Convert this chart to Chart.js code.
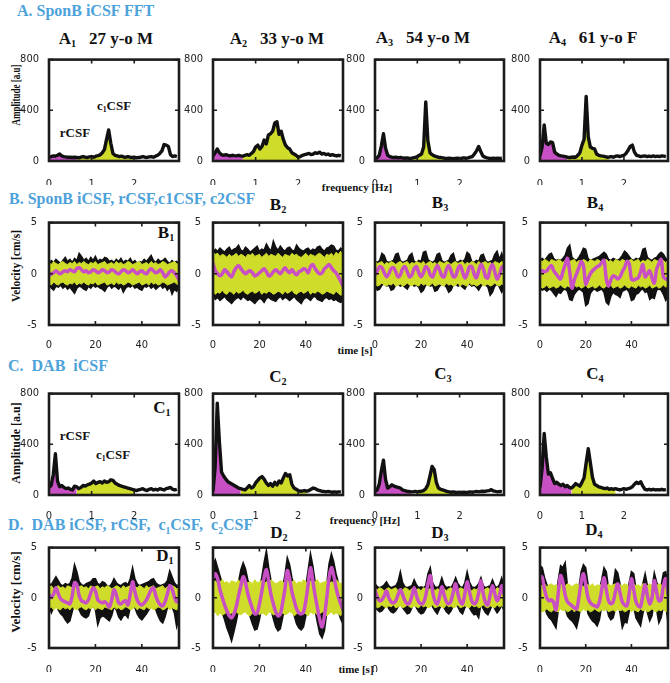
<!DOCTYPE html>
<html>
<head>
<meta charset="utf-8">
<script src="https://cdn.jsdelivr.net/npm/chart.js@4.4.1/dist/chart.umd.min.js"></script>
<style>
  body { margin: 0; width: 670px; height: 683px; overflow: hidden; background: #fff; position: relative; font-family: 'Liberation Serif', 'Times New Roman', serif; }
  canvas { position: absolute; }
  .hd { position: absolute; transform: translateY(-50%); color: #4da2da; font-weight: bold; font-size: 16px; white-space: nowrap; }
  .pt { position: absolute; transform: translate(-50%, -50%); font-weight: bold; font-size: 17px; color: #111; white-space: nowrap; }
  .an { position: absolute; transform: translate(-50%, -50%); font-weight: bold; font-size: 13px; color: #111; white-space: nowrap; }
  .yl { position: absolute; font-weight: bold; color: #111; white-space: nowrap; }
  .xl { position: absolute; transform: translate(-50%, -50%); font-weight: bold; font-size: 11px; color: #111; white-space: nowrap; }
  sub { font-size: 60%; vertical-align: -0.35em; }
</style>
</head>
<body>

<div class="hd" style="left:17px;top:11px">A. SponB iCSF FFT</div>
<div class="hd" style="left:9px;top:199px">B. SponB iCSF, rCSF,c1CSF, c2CSF</div>
<div class="hd" style="left:8px;top:366px">C.&nbsp; DAB&nbsp; iCSF</div>
<div class="hd" style="left:8px;top:526px">D.&nbsp; DAB iCSF, rCSF,&nbsp; c<sub>1</sub>CSF,&nbsp; c<sub>2</sub>CSF</div>

<div class="pt" style="left:106px;top:39px">A<sub>1</sub>&nbsp;&nbsp; 27 y-o M</div>
<div class="pt" style="left:277px;top:39px">A<sub>2</sub>&nbsp;&nbsp; 33 y-o M</div>
<div class="pt" style="left:423px;top:38px">A<sub>3</sub>&nbsp;&nbsp; 54 y-o M</div>
<div class="pt" style="left:593px;top:38px">A<sub>4</sub>&nbsp;&nbsp; 61 y-o F</div>

<div class="pt" style="left:166px;top:233px">B<sub>1</sub></div>
<div class="pt" style="left:278px;top:205px">B<sub>2</sub></div>
<div class="pt" style="left:440px;top:203px">B<sub>3</sub></div>
<div class="pt" style="left:595px;top:203px">B<sub>4</sub></div>

<div class="pt" style="left:162px;top:408px">C<sub>1</sub></div>
<div class="pt" style="left:278px;top:377px">C<sub>2</sub></div>
<div class="pt" style="left:443px;top:374px">C<sub>3</sub></div>
<div class="pt" style="left:595px;top:374px">C<sub>4</sub></div>

<div class="pt" style="left:165px;top:556px">D<sub>1</sub></div>
<div class="pt" style="left:279px;top:533px">D<sub>2</sub></div>
<div class="pt" style="left:440px;top:533px">D<sub>3</sub></div>
<div class="pt" style="left:594px;top:530px">D<sub>4</sub></div>

<div class="an" style="left:114px;top:106px">c<sub>1</sub>CSF</div>
<div class="an" style="left:75px;top:133px">rCSF</div>
<div class="an" style="left:75px;top:436px">rCSF</div>
<div class="an" style="left:113px;top:455px">c<sub>1</sub>CSF</div>

<div class="yl" style="left:16px;top:95px;font-size:12px;transform:translate(-50%,-50%) rotate(-90deg) scaleX(0.75)">Amplitude [a.u]</div>
<div class="yl" style="left:16px;top:266px;font-size:11.5px;transform:translate(-50%,-50%) rotate(-90deg)">Velocity [cm/s]</div>
<div class="yl" style="left:16px;top:443px;font-size:12px;transform:translate(-50%,-50%) rotate(-90deg)">Amplitude [a.u]</div>
<div class="yl" style="left:16px;top:592px;font-size:13px;transform:translate(-50%,-50%) rotate(-90deg)">Velocity [cm/s]</div>

<div class="xl" style="left:357px;top:187px">frequency [Hz]</div>
<div class="xl" style="left:365px;top:520px">frequency [Hz]</div>
<div class="xl" style="left:355px;top:350px">time [s]</div>
<div class="xl" style="left:356px;top:669px">time [s]</div>

<script>
// ---- spectra (rows A and C): frequency axis and amplitudes ----
const freqHz = [
  0, 0.05, 0.1, 0.15, 0.2, 0.25, 0.3, 0.35, 0.4, 0.45,
  0.5, 0.55, 0.6, 0.65, 0.7, 0.75, 0.8, 0.85, 0.9, 0.95,
  1.0, 1.05, 1.1, 1.15, 1.2, 1.25, 1.3, 1.35, 1.4, 1.45,
  1.5, 1.55, 1.6, 1.65, 1.7, 1.75, 1.8, 1.85, 1.9, 1.95,
  2.0, 2.05, 2.1, 2.15, 2.2, 2.25, 2.3, 2.35, 2.4, 2.45,
  2.5, 2.55, 2.6, 2.65, 2.7, 2.75, 2.8, 2.85, 2.9, 2.95,
  3.0
];

const ampA1 = [30,35,40,38,45,55,40,35,32,30, 30,28,30,28,25,30,35,30,28,32, 35,30,38,42,48,65,90,170,245,140,
  60,45,40,35,38,32,30,35,30,28, 30,25,28,30,35,30,28,32,35,30, 38,45,60,80,130,125,115,50,35,40, 35];
const ampA2 = [40,65,95,65,50,45,50,45,40,45, 42,40,45,40,38,45,50,45,60,75, 110,125,95,115,165,135,205,215,235,300,
  310,210,235,170,125,105,95,65,55,45, 30,35,45,50,55,60,50,55,65,60, 70,55,60,50,55,45,50,45,40,45, 40];
const ampA3 = [20,25,45,120,215,100,45,35,30,28, 30,25,28,25,22,25,22,20,25,28, 35,45,55,110,465,160,65,50,40,35,
  30,28,25,22,20,22,20,18,20,22, 20,22,25,22,25,30,35,55,80,115, 75,40,30,25,22,20,22,20,22,20, 22];
const ampA4 = [40,110,285,140,130,150,145,70,55,45, 40,38,35,30,28,30,32,30,45,65, 125,170,510,190,110,100,95,55,45,40,
  38,35,30,32,35,30,38,40,35,40, 45,60,85,115,125,70,45,40,35,38, 40,35,38,35,40,35,38,35,40,38, 35];
const ampC1 = [60,75,160,325,110,65,75,60,50,55, 45,40,70,65,50,60,75,70,80,85, 95,110,90,100,105,95,110,100,105,120,
  115,95,85,75,70,65,60,55,50,45, 40,35,40,45,50,40,35,45,50,40, 45,40,50,45,40,50,55,60,45,40, 45];
const ampC2 = [30,220,725,420,180,150,125,105,95,85, 75,65,55,50,45,40,55,75,55,65, 95,115,135,145,125,95,75,90,70,100,
  80,110,95,135,170,150,160,85,55,45, 35,30,32,35,30,35,45,55,50,40, 35,30,28,25,28,25,22,25,22,25, 25];
const ampC3 = [30,40,85,190,275,120,55,65,80,70, 65,60,55,40,35,30,28,25,25,28, 25,28,30,35,50,80,150,225,200,100,
  55,45,40,35,28,25,22,25,22,20, 22,20,22,20,22,25,22,25,28,25, 28,30,28,32,35,42,32,28,25,28, 25];
const ampC4 = [60,210,485,300,165,175,130,90,100,85, 75,85,65,75,60,55,70,90,80,70, 100,135,255,365,255,140,85,75,65,60,
  55,50,55,45,50,45,50,45,40,45, 50,45,50,55,65,85,100,90,105,70, 45,40,45,40,45,40,42,40,45,40, 42];

// [rCSF band end, c1CSF band start, c1CSF band end] in Hz
const bandsA = [[0.65, 0.65, 2.0], [0.7, 0.7, 2.05], [0.8, 0.8, 1.8], [0.65, 0.65, 1.65]];
const bandsC = [[0.65, 0.65, 2.0], [0.65, 0.65, 2.2], [0.85, 1.0, 2.0], [0.75, 0.75, 1.8]];

const freqTicks = [0, 1, 2];
const ampTicks = [0, 400, 800];

// ---- velocity traces (rows B and D), one value per second ----
const timeS = [
  0, 1, 2, 3, 4, 5, 6, 7, 8, 9,
  10, 11, 12, 13, 14, 15, 16, 17, 18, 19,
  20, 21, 22, 23, 24, 25, 26, 27, 28, 29,
  30, 31, 32, 33, 34, 35, 36, 37, 38, 39,
  40, 41, 42, 43, 44, 45, 46, 47, 48, 49,
  50, 51, 52, 53, 54, 55, 56
];
const timeTicks = [0, 20, 40];
const velTicks = [-5, 0, 5];

// B1
const b1IcsfHi = [1.0,1.3,1.1,1.4,1.2,1.0,1.3,1.6,1.2,1.4, 1.1,1.5,1.3,2.0,1.7,1.3,1.5,1.2,1.6,1.3,
  1.7,1.2,1.4,1.3,1.6,1.5,1.2,1.3,1.1,1.4, 1.2,1.5,1.1,1.3,1.2,1.5,1.1,1.3,1.0,1.2,
  1.1,1.4,1.2,1.5,1.8,1.3,1.1,1.4,1.2,1.3, 1.5,1.2,1.0,1.3,1.1,1.2,0.9];
const b1IcsfLo = [-1.0,-1.4,-1.6,-1.2,-1.3,-1.1,-1.4,-1.2,-1.5,-1.3, -1.6,-1.9,-1.4,-1.2,-1.3,-1.5,-1.6,-1.2,-1.4,-1.1,
  -1.3,-1.2,-1.4,-1.5,-1.7,-1.3,-1.1,-1.4,-1.2,-1.3, -1.5,-1.2,-1.8,-1.4,-1.2,-1.3,-1.1,-1.4,-1.3,-1.5,
  -1.6,-1.2,-1.3,-1.1,-1.4,-1.2,-1.5,-1.3,-1.1,-1.4, -1.2,-1.6,-1.3,-2.0,-1.5,-1.7,-1.3];
const b1C1Hi = [1.1,0.9,1.2,1.0,0.9,1.1,1.2,1.0,0.9,1.1, 1.0,1.2,0.9,1.1,1.0,1.2,1.0,0.9,1.1,1.0,
  1.2,0.9,1.0,1.1,1.2,0.9,1.0,1.1,0.9,1.2, 1.0,1.1,0.9,1.0,1.2,1.1,0.9,1.0,1.1,1.2,
  0.9,1.0,1.1,0.9,1.2,1.0,1.1,0.9,1.0,1.2, 1.1,0.9,1.0,1.1,1.2,1.0,0.9];
const b1C1Lo = [-0.9,-1.1,-0.8,-1.0,-1.1,-0.9,-0.8,-1.0,-1.1,-0.9, -1.0,-0.8,-1.1,-0.9,-1.0,-0.8,-1.0,-1.1,-0.9,-1.0,
  -0.8,-1.1,-1.0,-0.9,-0.8,-1.1,-1.0,-0.9,-1.1,-0.8, -1.0,-0.9,-1.1,-1.0,-0.8,-0.9,-1.1,-1.0,-0.9,-0.8,
  -1.1,-1.0,-0.9,-1.1,-0.8,-1.0,-0.9,-1.1,-1.0,-0.8, -0.9,-1.1,-1.0,-0.9,-0.8,-1.0,-1.1];
const b1Rcsf = [-0.2,0.0,0.1,0.3,0.1,0.0,0.2,0.3,0.2,0.4, 0.3,0.2,0.5,0.6,0.4,0.2,0.3,0.1,0.2,0.4,
  0.3,0.1,0.2,0.4,0.3,0.1,0.2,0.4,0.3,0.1, 0.0,0.2,0.4,0.3,0.1,0.2,0.4,0.2,0.0,0.2,
  0.3,0.1,0.0,0.3,0.5,0.3,0.1,0.2,0.4,0.1, -0.3,-0.1,0.2,0.3,0.1,-0.2,-0.6];

// B2
const b2IcsfHi = [2.1,2.4,2.2,2.5,2.3,2.1,2.4,2.6,2.2,2.4, 2.5,2.8,2.3,2.2,2.6,2.4,2.1,2.3,2.5,2.7,
  2.2,2.4,2.3,2.9,2.5,2.2,3.2,2.6,2.3,2.7, 2.4,2.2,2.5,2.6,2.3,2.2,2.8,2.5,2.3,2.2,
  2.4,2.5,2.2,2.4,2.3,2.6,2.7,2.4,2.2,2.5, 2.6,2.8,2.7,2.3,2.2,2.5,2.3];
const b2IcsfLo = [-2.2,-2.5,-2.3,-2.6,-2.4,-2.2,-2.5,-2.7,-2.9,-2.6, -2.4,-2.3,-2.5,-2.2,-2.4,-2.6,-2.5,-2.7,-2.9,-2.6,
  -2.4,-2.5,-2.8,-2.4,-2.3,-2.5,-2.6,-2.7,-2.4,-2.2, -2.5,-2.3,-2.4,-2.6,-2.4,-2.2,-2.5,-2.7,-2.9,-2.5,
  -2.3,-2.4,-2.6,-2.3,-2.2,-2.5,-2.6,-2.7,-2.4,-2.3, -2.5,-2.4,-2.6,-2.5,-2.7,-2.8,-2.6];
const b2C1Hi = [2.1,1.9,2.0,1.7,1.9,1.8,1.6,1.9,1.7,1.8, 2.0,1.7,1.9,1.8,1.6,1.9,1.8,2.0,1.7,1.8,
  1.9,1.6,1.8,2.0,1.7,1.9,1.8,1.7,2.0,1.8, 1.6,1.9,1.8,1.7,2.0,1.8,1.9,1.7,1.6,1.8,
  2.0,1.7,1.9,1.8,1.7,1.9,2.0,1.8,1.6,1.9, 1.8,2.0,1.7,2.1,1.9,2.2,1.8];
const b2C1Lo = [-1.7,-2.0,-1.8,-1.9,-1.6,-1.9,-2.0,-1.7,-1.8,-2.0, -1.7,-1.9,-1.8,-1.6,-1.9,-2.0,-1.8,-1.7,-1.9,-1.8,
  -1.6,-2.0,-1.8,-1.9,-1.7,-1.8,-2.0,-1.9,-1.7,-1.8, -2.0,-1.7,-1.9,-1.8,-1.6,-1.9,-2.0,-1.8,-1.7,-1.9,
  -1.8,-1.6,-2.0,-1.8,-1.9,-1.7,-1.8,-2.0,-1.9,-1.7, -1.8,-1.9,-2.0,-1.7,-1.9,-2.1,-2.0];
const b2Rcsf = [1.0,0.3,0.0,-0.2,0.0,0.4,0.2,-0.1,-0.3,0.2, 0.6,0.8,0.5,0.2,0.0,0.2,0.3,0.1,-0.2,-0.1,
  0.1,0.3,0.5,0.2,-0.2,-0.1,0.2,0.4,0.2,0.0, 0.3,0.6,0.3,0.1,0.4,0.1,-0.1,0.2,0.3,0.5,
  0.4,0.1,0.7,0.9,0.5,0.2,0.0,0.1,0.5,0.7, 0.9,0.6,0.3,0.1,-0.3,-0.7,-1.2];

// B3
const b3IcsfHi = [1.2,1.1,1.3,2.0,1.8,1.2,1.1,1.2,1.3,1.9, 2.0,1.3,1.1,1.2,1.3,1.8,2.0,1.2,1.1,1.3,
  1.2,2.1,2.2,1.4,1.2,1.1,1.3,1.9,2.0,1.3, 1.1,1.2,1.3,1.8,2.0,1.2,1.1,1.3,1.2,1.4,
  2.1,1.9,1.2,1.1,1.3,1.2,1.8,1.9,1.3,1.1, 1.2,1.3,1.9,2.2,1.4,2.0,1.3];
const b3IcsfLo = [-1.1,-1.6,-1.5,-1.1,-1.0,-1.2,-1.1,-1.6,-1.5,-1.1, -1.0,-1.2,-1.1,-1.3,-1.5,-1.1,-1.0,-1.2,-1.1,-1.3,
  -1.8,-1.6,-1.1,-1.0,-1.2,-1.1,-1.7,-1.6,-1.2,-1.0, -1.1,-1.3,-1.8,-1.6,-1.1,-1.0,-1.2,-1.1,-1.3,-1.5,
  -1.1,-1.0,-1.2,-1.1,-1.3,-1.6,-1.2,-1.0,-1.1,-1.3, -2.1,-1.8,-1.2,-1.0,-1.3,-1.8,-1.4];
const b3C1Hi = [1.2,1.0,1.1,1.2,0.9,1.1,1.0,1.2,1.1,0.9, 1.1,1.2,1.0,1.1,1.2,0.9,1.1,1.0,1.2,1.1,
  1.0,1.2,0.9,1.1,1.2,1.0,1.1,0.9,1.2,1.1, 1.0,1.2,1.1,0.9,1.1,1.2,1.0,1.1,1.2,0.9,
  1.1,1.0,1.2,1.1,0.9,1.2,1.0,1.1,1.2,1.0, 1.1,0.9,1.2,1.1,1.0,1.2,1.1];
const b3C1Lo = [-1.0,-1.2,-1.1,-0.9,-1.1,-1.2,-1.0,-1.1,-0.9,-1.2, -1.1,-1.0,-1.2,-1.1,-0.9,-1.1,-1.2,-1.0,-1.1,-1.2,
  -0.9,-1.1,-1.0,-1.2,-1.1,-0.9,-1.2,-1.1,-1.0,-1.1, -1.2,-0.9,-1.1,-1.0,-1.2,-1.1,-0.9,-1.2,-1.0,-1.1,
  -1.2,-0.9,-1.1,-1.0,-1.2,-1.1,-0.9,-1.2,-1.1,-1.0, -1.2,-1.1,-0.9,-1.1,-1.2,-1.0,-1.1];
const b3Rcsf = [-0.1,0.3,0.7,0.6,0.1,-0.3,0.0,0.5,0.6,0.2, -0.3,-0.1,0.5,0.7,0.2,-0.3,-0.1,0.5,0.7,0.1,
  -0.3,0.1,0.7,0.5,-0.1,-0.3,0.3,0.8,0.4,-0.2, -0.3,0.4,0.8,0.3,-0.3,-0.2,0.5,0.8,0.2,-0.4,
  0.0,0.7,0.7,0.0,-0.4,0.3,0.9,0.5,-0.3,-0.4, 0.5,0.9,0.2,-0.5,-0.1,0.6,0.8];

// B4
const b4IcsfHi = [1.4,1.5,1.3,1.6,1.9,2.0,1.5,1.3,1.4,1.3, 1.5,1.8,2.5,2.8,1.6,1.4,1.3,1.6,2.0,2.5,
  2.4,1.5,1.3,1.4,1.5,1.6,1.7,1.9,2.1,1.9, 1.4,1.3,1.5,1.4,1.3,1.5,1.8,2.2,2.0,1.7,
  1.4,1.3,1.5,1.4,1.6,2.4,2.5,1.6,1.4,1.3, 1.5,1.6,1.9,2.1,1.9,1.5,1.4];
const b4IcsfLo = [-1.4,-1.6,-1.5,-1.7,-1.5,-1.6,-1.9,-2.2,-1.8,-1.9, -1.6,-1.5,-1.7,-2.5,-2.6,-2.0,-1.7,-1.5,-1.6,-1.8,
  -3.1,-2.9,-1.9,-1.6,-1.5,-1.7,-1.6,-1.5,-1.8,-2.8, -3.0,-2.2,-1.8,-2.0,-2.1,-2.3,-1.7,-1.6,-1.5,-1.8,
  -2.6,-2.5,-2.0,-1.9,-1.6,-1.5,-1.8,-1.7,-2.5,-2.3, -2.4,-1.6,-1.5,-1.6,-2.0,-2.6,-2.2];
const b4C1Hi = [1.3,1.2,1.4,1.3,1.1,1.4,1.3,1.2,1.4,1.3, 1.1,1.3,1.4,1.2,1.3,1.4,1.1,1.3,1.2,1.4,
  1.3,1.1,1.4,1.3,1.2,1.4,1.3,1.1,1.3,1.4, 1.2,1.3,1.1,1.4,1.3,1.2,1.4,1.3,1.1,1.3,
  1.4,1.2,1.3,1.4,1.1,1.3,1.2,1.4,1.3,1.1, 1.4,1.3,1.2,1.4,1.3,1.1,1.3];
const b4C1Lo = [-1.2,-1.4,-1.3,-1.1,-1.4,-1.3,-1.2,-1.4,-1.3,-1.1, -1.3,-1.4,-1.2,-1.3,-1.4,-1.1,-1.3,-1.2,-1.4,-1.3,
  -1.1,-1.4,-1.3,-1.2,-1.4,-1.3,-1.1,-1.3,-1.4,-1.2, -1.3,-1.1,-1.4,-1.3,-1.2,-1.4,-1.3,-1.1,-1.3,-1.4,
  -1.2,-1.3,-1.4,-1.1,-1.3,-1.2,-1.4,-1.3,-1.1,-1.4, -1.3,-1.2,-1.4,-1.3,-1.1,-1.3,-1.2];
const b4Rcsf = [0.2,0.3,0.2,0.3,0.6,0.8,0.3,0.0,-0.3,-0.5, 0.2,0.9,1.5,0.2,-1.4,-0.6,0.0,0.6,1.2,0.8,
  -1.0,-0.5,0.0,0.3,0.5,0.7,0.8,1.1,1.3,-0.5, -1.2,-0.6,-0.2,-0.3,-0.5,-0.3,0.2,0.6,1.2,1.0,
  -0.5,-0.6,-0.5,-0.4,0.2,0.9,-0.3,0.0,0.3,-0.4, -0.9,0.4,1.0,1.4,-0.3,-0.5,-0.6];

// D1
const d1IcsfHi = [1.4,1.3,1.7,2.1,1.7,1.3,1.2,1.4,1.3,1.4, 2.0,3.3,2.6,1.6,1.3,1.2,1.4,1.5,1.6,1.9,
  1.9,1.4,1.3,1.6,1.5,1.2,1.1,1.4,1.9,1.5, 1.3,1.2,1.4,1.5,1.3,1.9,3.0,1.9,1.4,1.2,
  1.3,1.4,1.5,1.6,1.8,1.9,1.5,1.3,1.2,1.3, 1.4,1.7,2.7,2.1,1.5,1.2,1.3];
const d1IcsfLo = [-0.8,-1.5,-1.0,-0.5,-1.2,-1.6,-1.8,-2.2,-2.5,-2.3, -1.4,-0.5,-0.6,-1.2,-1.7,-1.9,-2.0,-1.8,-1.0,-0.8,
  -1.2,-2.7,-2.0,-1.8,-1.9,-2.1,-2.3,-1.8,-0.9,-1.2, -1.9,-2.2,-1.8,-1.7,-2.0,-1.0,-0.4,-1.0,-1.6,-2.0,
  -2.2,-1.9,-1.6,-1.2,-0.8,-0.6,-1.2,-1.8,-2.3,-2.5, -1.9,-1.0,-0.4,-0.9,-1.5,-2.9,-2.0];
const d1C1Hi = [1.0,1.2,0.9,1.1,1.2,1.0,1.1,0.9,1.2,1.1, 1.0,1.2,0.9,1.1,1.2,1.0,1.1,0.9,1.2,1.0,
  1.1,1.2,0.9,1.1,1.0,1.2,1.1,0.9,1.0,1.2, 1.1,0.9,1.2,1.0,1.1,1.2,0.9,1.1,1.0,1.2,
  1.1,0.9,1.2,1.0,1.1,1.2,0.9,1.0,1.1,1.2, 0.9,1.1,1.0,1.2,1.1,0.9,1.0];
const d1C1Lo = [-1.1,-0.9,-1.2,-1.0,-1.1,-1.2,-0.9,-1.1,-1.0,-1.2, -0.9,-1.1,-1.2,-1.0,-0.9,-1.1,-1.2,-1.0,-1.1,-0.9,
  -1.2,-1.0,-1.1,-1.2,-0.9,-1.0,-1.1,-1.2,-0.9,-1.1, -1.0,-1.2,-1.1,-0.9,-1.0,-1.2,-1.1,-0.9,-1.2,-1.0,
  -1.1,-1.2,-0.9,-1.1,-1.0,-1.2,-1.1,-0.9,-1.0,-1.2, -1.1,-0.9,-1.2,-1.0,-1.1,-1.2,-1.0];
const d1Rcsf = [0.3,0.0,0.4,1.0,0.4,-0.1,-0.3,-0.4,-0.5,-0.6, 0.2,1.5,1.3,0.2,-0.3,-0.4,-0.5,-0.2,0.5,1.0,
  0.7,-0.2,-0.4,-0.5,-0.4,-0.6,-0.9,-0.2,0.8,0.3, -0.5,-0.6,-0.4,-0.3,-0.7,0.4,1.6,0.6,-0.2,-0.6,
  -0.7,-0.5,-0.2,0.3,0.8,1.0,0.2,-0.4,-0.7,-0.8, -0.4,0.4,1.2,0.9,0.1,-0.4,-0.2];

// D2
const d2IcsfHi = [3.3,3.8,3.0,2.2,1.4,0.8,0.2,-0.3,-0.6,-0.2, 0.5,1.6,2.8,3.5,2.9,1.8,1.0,0.3,-0.1,0.0,
  0.9,2.0,3.5,4.7,3.0,1.7,0.8,0.1,-0.3,0.0, 1.0,2.3,4.0,3.3,2.0,1.1,0.4,0.0,-0.1,0.1,
  1.2,2.8,4.4,3.2,1.6,0.5,-0.6,-1.3,-0.4,1.4, 3.4,4.4,3.6,2.4,1.5,0.8,0.2];
const d2IcsfLo = [0.3,0.8,0.5,-0.6,-1.5,-2.2,-3.0,-3.6,-4.3,-3.4, -2.4,-1.2,-0.2,0.6,0.0,-1.0,-1.9,-2.6,-3.2,-3.1,
  -2.2,-0.9,0.5,1.2,0.1,-1.2,-2.1,-2.9,-3.3,-3.1, -2.0,-0.6,1.2,0.4,-0.9,-1.8,-2.6,-3.0,-3.2,-2.9,
  -1.8,-0.1,1.5,0.2,-1.3,-2.5,-3.6,-4.0,-3.3,-1.5, 0.5,1.5,0.7,-0.5,-1.4,-2.1,-2.6];
const d2C1Hi = [1.5,1.7,1.4,1.6,1.8,1.5,1.6,1.4,1.7,1.6, 1.5,1.8,1.4,1.6,1.7,1.5,1.6,1.4,1.8,1.5,
  1.6,1.7,1.4,1.6,1.5,1.8,1.6,1.4,1.5,1.7, 1.6,1.4,1.8,1.5,1.6,1.7,1.4,1.6,1.5,1.8,
  1.6,1.4,1.7,1.5,1.6,1.8,1.4,1.5,1.6,1.7, 1.4,1.6,1.5,1.8,1.6,1.4,1.5];
const d2C1Lo = [-1.6,-1.4,-1.8,-1.5,-1.7,-1.6,-1.4,-1.7,-1.5,-1.8, -1.4,-1.6,-1.7,-1.5,-1.4,-1.7,-1.8,-1.5,-1.6,-1.4,
  -1.7,-1.5,-1.6,-1.8,-1.4,-1.5,-1.7,-1.6,-1.4,-1.8, -1.5,-1.7,-1.6,-1.4,-1.5,-1.8,-1.6,-1.4,-1.7,-1.5,
  -1.6,-1.8,-1.4,-1.6,-1.5,-1.7,-1.6,-1.4,-1.5,-1.8, -1.6,-1.4,-1.7,-1.5,-1.6,-1.8,-1.5];
const d2Rcsf = [2.0,2.4,1.9,0.8,0.0,-0.7,-1.3,-1.8,-2.0,-1.6, -0.9,0.2,1.2,2.1,1.5,0.4,-0.4,-1.1,-1.6,-1.5,
  -0.6,0.6,2.0,2.8,1.6,0.3,-0.6,-1.4,-1.8,-1.6, -0.5,0.9,2.7,1.9,0.6,-0.3,-1.1,-1.5,-1.6,-1.4,
  -0.3,1.4,3.0,1.7,0.2,-1.0,-2.2,-2.9,-1.8,0.0, 2.0,3.0,2.2,1.0,0.1,-0.6,-1.2];

// D3
const d3IcsfHi = [1.4,1.1,1.0,1.1,1.3,1.6,1.2,1.0,1.1,1.2, 1.6,2.6,1.5,1.1,1.0,1.1,1.2,1.8,1.3,1.0,
  1.1,1.0,1.2,2.4,3.0,1.5,1.1,1.0,1.2,2.0, 1.3,1.0,1.1,1.0,1.4,2.0,1.4,1.1,1.0,1.5,
  2.6,1.6,1.1,1.0,1.1,1.4,2.0,1.2,1.0,1.1, 1.2,1.8,1.2,1.0,1.3,2.0,1.2];
const d3IcsfLo = [-0.9,-1.2,-1.4,-1.3,-1.0,-0.6,-1.1,-1.4,-1.5,-1.3, -0.9,-0.5,-1.0,-1.3,-1.6,-1.5,-1.0,-0.5,-1.0,-1.4,
  -1.6,-1.5,-1.1,-0.5,-0.3,-0.9,-1.3,-1.6,-1.1,-0.6, -1.0,-1.4,-1.6,-1.3,-0.8,-0.5,-0.9,-1.4,-1.6,-1.0,
  -0.5,-1.0,-1.4,-1.7,-1.6,-2.0,-0.6,-1.1,-1.5,-1.7, -1.2,-0.6,-1.1,-1.5,-1.2,-0.7,-1.3];
const d3C1Hi = [0.9,0.8,1.0,0.9,0.7,0.9,1.0,0.8,0.9,1.0, 0.7,0.9,0.8,1.0,0.9,0.7,0.9,1.0,0.8,0.9,
  0.7,1.0,0.9,0.8,0.9,1.0,0.7,0.9,0.8,1.0, 0.9,0.7,0.9,1.0,0.8,0.9,0.7,1.0,0.9,0.8,
  1.0,0.9,0.7,0.9,0.8,1.0,0.9,0.7,0.9,1.0, 0.8,0.9,0.7,1.0,0.9,0.8,0.9];
const d3C1Lo = [-0.8,-1.0,-0.9,-0.7,-0.9,-1.0,-0.8,-0.9,-0.7,-1.0, -0.9,-0.8,-1.0,-0.9,-0.7,-0.9,-1.0,-0.8,-0.9,-1.0,
  -0.7,-0.9,-0.8,-1.0,-0.9,-0.7,-1.0,-0.9,-0.8,-0.9, -1.0,-0.7,-0.9,-0.8,-1.0,-0.9,-0.7,-1.0,-0.9,-0.8,
  -0.9,-1.0,-0.7,-0.9,-0.8,-1.0,-0.9,-0.7,-0.9,-1.0, -0.8,-0.9,-1.0,-0.7,-0.9,-0.8,-1.0];
const d3Rcsf = [0.8,0.1,-0.3,-0.2,0.2,0.7,0.0,-0.4,-0.5,-0.3, 0.3,0.8,0.3,-0.3,-0.6,-0.5,0.2,1.0,0.2,-0.4,
  -0.6,-0.5,0.2,1.4,2.2,0.6,-0.3,-0.6,0.1,1.1, 0.3,-0.4,-0.6,-0.3,0.6,1.4,0.4,-0.4,-0.6,0.4,
  1.6,0.6,-0.3,-0.6,-0.4,0.5,1.7,0.4,-0.5,-0.7, 0.3,1.2,0.4,-0.3,0.2,1.2,0.4];

// D4
const d4IcsfHi = [3.2,3.0,2.0,1.3,1.0,1.1,0.8,0.2,1.8,3.2, 3.0,3.5,1.2,0.8,0.6,0.4,0.3,1.0,2.6,3.3,
  3.0,1.4,0.8,0.6,0.4,0.4,0.8,1.8,3.0,2.6, 1.0,0.8,1.2,2.8,2.5,1.4,0.8,0.5,0.5,1.5,
  2.6,2.4,0.9,0.5,0.4,1.4,2.4,1.2,0.5,1.0, 2.5,1.6,0.8,1.2,2.5,2.6,1.3];
const d4IcsfLo = [0.8,0.2,-0.9,-1.6,-2.0,-2.2,-2.6,-3.0,-1.2,0.6, 0.0,-1.0,-1.8,-2.1,-2.3,-2.6,-3.0,-2.0,-0.5,0.7,
  -0.3,-1.6,-2.0,-2.3,-2.5,-2.8,-2.2,-0.8,0.4,-0.8, -1.8,-2.2,-2.0,-1.1,-0.5,-1.5,-3.0,-2.4,-2.5,-1.4,
  0.0,-0.9,-2.0,-2.4,-2.8,-1.6,-0.6,-1.5,-2.3,-1.8, -0.2,-1.2,-2.5,-2.0,-0.8,-0.6,-2.6];
const d4C1Hi = [1.3,1.2,1.4,1.1,1.3,1.4,1.2,1.3,1.1,1.4, 1.3,1.2,1.4,1.3,1.1,1.3,1.4,1.2,1.3,1.1,
  1.4,1.3,1.2,1.4,1.1,1.3,1.2,1.4,1.3,1.1, 1.4,1.2,1.3,1.4,1.1,1.3,1.2,1.4,1.3,1.1,
  1.3,1.4,1.2,1.3,1.1,1.4,1.3,1.2,1.4,1.1, 1.3,1.2,1.4,1.3,1.1,1.3,1.2];
const d4C1Lo = [-1.2,-1.4,-1.3,-1.1,-1.3,-1.4,-1.2,-1.3,-1.4,-1.1, -1.3,-1.2,-1.4,-1.3,-1.1,-1.4,-1.2,-1.3,-1.4,-1.1,
  -1.3,-1.2,-1.4,-1.3,-1.1,-1.3,-1.4,-1.2,-1.3,-1.1, -1.4,-1.3,-1.2,-1.4,-1.1,-1.3,-1.2,-1.4,-1.3,-1.1,
  -1.4,-1.2,-1.3,-1.4,-1.1,-1.3,-1.2,-1.4,-1.3,-1.1, -1.3,-1.4,-1.2,-1.3,-1.1,-1.4,-1.3];
const d4Rcsf = [2.2,2.0,0.8,0.0,-0.3,-0.2,-0.5,-1.2,0.5,2.2, 1.6,0.3,-0.4,-0.6,-0.8,-1.0,-1.1,0.0,1.5,2.4,
  1.3,0.0,-0.5,-0.7,-0.8,-0.9,-0.4,0.8,2.0,0.8, -0.3,-0.6,-0.4,0.6,1.4,0.5,-0.4,-0.7,-0.8,0.4,
  1.9,0.8,-0.4,-0.8,-0.9,0.3,1.3,0.2,-0.6,0.0, 1.7,0.6,-0.3,-0.2,1.2,1.9,0.4];

// ---- drawing ----
const MAGENTA = '#c850c4';
const YELLOW = '#cfdd2a';
const BLACK = '#111111';
const TICK_FONT = { family: "'Liberation Sans Narrow', 'DejaVu Sans Condensed', 'Liberation Sans', sans-serif", size: 11 };

// plot-box geometry in page pixels; xPad = gap between box and x tick labels
const colBox = [{ l: 49, w: 130 }, { l: 213, w: 130 }, { l: 375, w: 129 }, { l: 540, w: 128 }];
const rowBox = {
  A: { t: 57, h: 104, xPad: 9 },
  B: { t: 218, h: 107, xPad: 6 },
  C: { t: 391, h: 104, xPad: 7 },
  D: { t: 543, h: 105, xPad: 8 }
};
const PAD_L = 40, PAD_T = 6, PAD_R = 2, PAD_B = 24;

// MATLAB-like frame with small inward tick marks
const framePlugin = {
  id: 'frame',
  afterDraw(chart) {
    const { ctx, chartArea: a, scales } = chart;
    ctx.save();
    ctx.strokeStyle = '#1c1c1c';
    ctx.lineWidth = 1.6;
    ctx.beginPath();
    scales.x.ticks.forEach(t => {
      const px = scales.x.getPixelForValue(t.value);
      ctx.moveTo(px, a.bottom); ctx.lineTo(px, a.bottom - 4);
      ctx.moveTo(px, a.top); ctx.lineTo(px, a.top + 4);
    });
    scales.y.ticks.forEach(t => {
      const py = scales.y.getPixelForValue(t.value);
      ctx.moveTo(a.left, py); ctx.lineTo(a.left + 4, py);
      ctx.moveTo(a.right, py); ctx.lineTo(a.right - 4, py);
    });
    ctx.stroke();
    ctx.lineWidth = 2.6;
    ctx.strokeRect(a.left, a.top, a.right - a.left, a.bottom - a.top);
    ctx.restore();
  }
};

function makeCanvas(row, col) {
  const r = rowBox[row], c = colBox[col];
  const cv = document.createElement('canvas');
  cv.width = c.w + PAD_L + PAD_R;
  cv.height = r.h + PAD_T + PAD_B;
  cv.style.left = (c.l - PAD_L) + 'px';
  cv.style.top = (r.t - PAD_T) + 'px';
  document.body.appendChild(cv);
  return cv;
}

function axisOpts(min, max, tickVals, isY, pad) {
  return {
    type: 'linear',
    min: min,
    max: max,
    grid: { display: false },
    border: { display: false },
    afterBuildTicks: axis => { axis.ticks = tickVals.map(v => ({ value: v })); },
    afterFit: axis => { if (isY) axis.width = PAD_L; else axis.height = PAD_B; },
    ticks: {
      font: TICK_FONT,
      color: '#222',
      padding: pad,
      autoSkip: false,
      maxRotation: 0,
      minRotation: 0,
      callback: v => String(v)
    }
  };
}

function baseOptions(row, xMax, xTicks, yMin, yMax, yTicks, yPad) {
  return {
    responsive: false,
    animation: false,
    events: [],
    layout: { padding: { left: 0, top: PAD_T, right: PAD_R, bottom: 0 } },
    elements: { point: { radius: 0 } },
    plugins: { legend: { display: false }, tooltip: { enabled: false } },
    scales: {
      x: axisOpts(0, xMax, xTicks, false, rowBox[row].xPad),
      y: axisOpts(yMin, yMax, yTicks, true, yPad)
    }
  };
}

function spectrumChart(row, col, amps, band) {
  const pts = freqHz.map((f, i) => ({ x: f, y: amps[i] }));
  const rPts = pts.filter(p => p.x <= band[0] + 1e-9);
  const cPts = pts.filter(p => p.x >= band[1] - 1e-9 && p.x <= band[2] + 1e-9);
  new Chart(makeCanvas(row, col), {
    type: 'line',
    data: {
      datasets: [
        { data: pts, borderColor: BLACK, borderWidth: 3.4, fill: false, tension: 0, borderJoinStyle: 'round' },
        { data: rPts, borderWidth: 0, borderColor: MAGENTA, backgroundColor: MAGENTA, fill: 'origin', tension: 0 },
        { data: cPts, borderWidth: 0, borderColor: YELLOW, backgroundColor: YELLOW, fill: 'origin', tension: 0 }
      ]
    },
    options: baseOptions(row, 3.05, freqTicks, 0, 800, ampTicks, 2),
    plugins: [framePlugin]
  });
}

function velocityChart(row, col, icsfHi, icsfLo, c1Hi, c1Lo, rcsf) {
  const pts = arr => timeS.map((t, i) => ({ x: t, y: arr[i] }));
  new Chart(makeCanvas(row, col), {
    type: 'line',
    data: {
      datasets: [
        { data: pts(rcsf), borderColor: MAGENTA, borderWidth: 3.5, fill: false, tension: 0.35,
          borderCapStyle: 'round', borderJoinStyle: 'round' },
        { data: pts(c1Hi), borderColor: YELLOW, backgroundColor: YELLOW, borderWidth: 1, fill: '+1', tension: 0 },
        { data: pts(c1Lo), borderColor: YELLOW, borderWidth: 1, fill: false, tension: 0 },
        { data: pts(icsfHi), borderColor: BLACK, backgroundColor: BLACK, borderWidth: 1.5, fill: '+1', tension: 0 },
        { data: pts(icsfLo), borderColor: BLACK, borderWidth: 1.5, fill: false, tension: 0 }
      ]
    },
    options: baseOptions(row, 56, timeTicks, -5, 5, velTicks, 4),
    plugins: [framePlugin]
  });
}

[ampA1, ampA2, ampA3, ampA4].forEach((a, i) => spectrumChart('A', i, a, bandsA[i]));
[ampC1, ampC2, ampC3, ampC4].forEach((a, i) => spectrumChart('C', i, a, bandsC[i]));

velocityChart('B', 0, b1IcsfHi, b1IcsfLo, b1C1Hi, b1C1Lo, b1Rcsf);
velocityChart('B', 1, b2IcsfHi, b2IcsfLo, b2C1Hi, b2C1Lo, b2Rcsf);
velocityChart('B', 2, b3IcsfHi, b3IcsfLo, b3C1Hi, b3C1Lo, b3Rcsf);
velocityChart('B', 3, b4IcsfHi, b4IcsfLo, b4C1Hi, b4C1Lo, b4Rcsf);

velocityChart('D', 0, d1IcsfHi, d1IcsfLo, d1C1Hi, d1C1Lo, d1Rcsf);
velocityChart('D', 1, d2IcsfHi, d2IcsfLo, d2C1Hi, d2C1Lo, d2Rcsf);
velocityChart('D', 2, d3IcsfHi, d3IcsfLo, d3C1Hi, d3C1Lo, d3Rcsf);
velocityChart('D', 3, d4IcsfHi, d4IcsfLo, d4C1Hi, d4C1Lo, d4Rcsf);
</script>
</body>
</html>
